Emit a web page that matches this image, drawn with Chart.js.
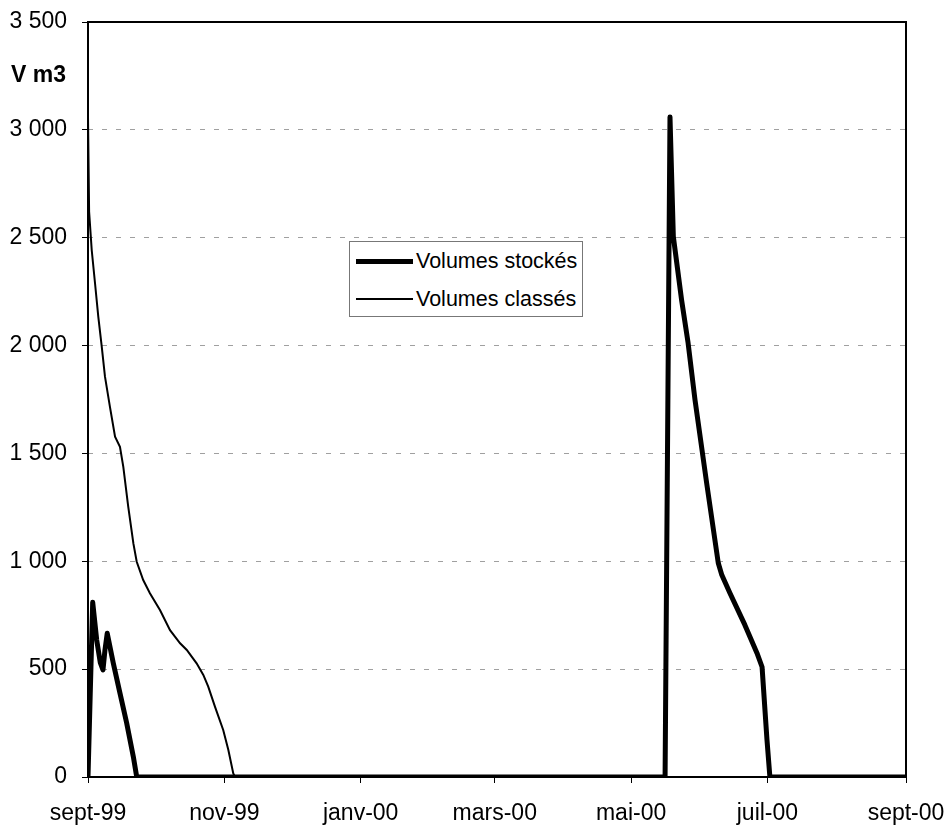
<!DOCTYPE html>
<html>
<head>
<meta charset="utf-8">
<script src="https://cdn.jsdelivr.net/npm/chart.js@4/dist/chart.umd.min.js"></script>
<style>
    body { margin: 0; background: #fff; }
    #wrap { position: relative; width: 951px; height: 827px; }
    #yTitle { position: absolute; left: 11px; top: 61px; font: bold 23px "Liberation Sans", Arial, sans-serif; line-height: 26px; color: #000; }
    #legend { position: absolute; left: 349px; top: 241px; width: 232px; height: 74px; border: 1px solid #777; background: #fff; }
    .row { position: absolute; left: 0; height: 26px; font: 21.5px "Liberation Sans", Arial, sans-serif; line-height: 26px; color: #000; white-space: nowrap; }
    .row span.swatch { position: absolute; left: 6px; width: 57px; top: 13px; background: #000; }
    .row span.txt { position: absolute; left: 66px; top: 0; }
</style>
</head>
<body>
<div id="wrap">
    <canvas id="volumeChart"></canvas>
    <div id="yTitle">V m3</div>
    <div id="legend"></div>
</div>
<script>
// x values are days since 1 Sept 1999
var tickDays = [0, 61, 122, 182, 243, 304, 366];
var tickLabels = ['sept-99', 'nov-99', 'janv-00', 'mars-00', 'mai-00', 'juil-00', 'sept-00'];

var stockDays = [0, 2.1, 3.9, 5.5, 6.7, 7.6, 8.6, 11.3, 14.3, 17.3, 20.3, 21.8,
    258.2, 260.4, 261.9, 265.6, 268.5, 271.6, 276.8, 282.0, 283.6, 287.2, 293.9, 299.3, 301.6, 303.8, 305.1, 366];
var stockValues = [0, 810, 635, 530, 496, 590, 666, 528, 389, 250, 93, 0,
    0, 3060, 2505, 2211, 2012, 1748, 1363, 992, 936, 853, 705, 575, 510, 172, 0, 0];

var classDays = [0, 0.5, 1.66, 3.13, 4.6, 6.1, 7.6, 9.8, 12.1, 14.3, 15.8, 18.0, 20.3, 21.8, 24.7, 27.7,
    32.2, 36.7, 41.2, 44.2, 48.6, 51.6, 53.8, 56.8, 60.5, 62.8, 65.0, 65.8, 366];
var classValues = [3060, 2620, 2443, 2290, 2134, 2000, 1856, 1717, 1578, 1531, 1438, 1253, 1083, 998, 913, 852,
    774, 681, 620, 589, 527, 473, 419, 326, 218, 125, 17, 0, 0];

function toPoints(xs, ys) {
    return xs.map((x, i) => ({ x: x, y: ys[i] }));
}

function formatThousands(v) {
    if (v < 1000) return String(v);
    return Math.floor(v / 1000) + ' ' + String(v % 1000).padStart(3, '0');
}

var frameBox = {
    id: 'frameBox',
    afterDatasetsDraw(chart) {
        var a = chart.chartArea;
        var ctx = chart.ctx;
        ctx.save();
        ctx.strokeStyle = '#000';
        ctx.lineWidth = 2;
        ctx.strokeRect(a.left, a.top, a.right - a.left, a.bottom - a.top);
        ctx.restore();
    }
};

Chart.defaults.font.family = '"Liberation Sans", Arial, sans-serif';
Chart.defaults.font.size = 23;
Chart.defaults.color = '#000';

var ctx = document.getElementById('volumeChart').getContext('2d');
var volumeChart = new Chart(ctx, {
    type: 'line',
    data: {
        datasets: [{
            label: 'Volumes stockés',
            data: toPoints(stockDays, stockValues),
            borderColor: '#000',
            borderWidth: 5,
            pointRadius: 0,
            tension: 0,
            borderJoinStyle: 'round',
            fill: false
        },
        {
            label: 'Volumes classés',
            data: toPoints(classDays, classValues),
            borderColor: '#000',
            borderWidth: 2,
            pointRadius: 0,
            tension: 0,
            fill: false
        }]
    },
    options: {
        responsive: true,
        maintainAspectRatio: false,
        animation: false,
        layout: { padding: { left: 0, right: 45, top: 22, bottom: 0 } },
        plugins: {
            legend: { display: false },
            title: { display: false },
            tooltip: { enabled: false }
        },
        scales: {
            x: {
                type: 'linear',
                min: 0,
                max: 366,
                afterBuildTicks: function (scale) {
                    scale.ticks = tickDays.map(d => ({ value: d }));
                },
                afterFit: function (scale) {
                    scale.height = 50;
                    scale.paddingLeft = 0;
                    scale.paddingRight = 0;
                },
                ticks: {
                    autoSkip: false,
                    maxRotation: 0,
                    padding: 17,
                    callback: function (value) {
                        var i = tickDays.indexOf(value);
                        return i >= 0 ? tickLabels[i] : '';
                    }
                },
                grid: {
                    drawOnChartArea: false,
                    drawTicks: true,
                    tickLength: 6,
                    tickColor: '#000',
                    tickWidth: 1
                },
                border: { display: false }
            },
            y: {
                min: 0,
                max: 3500,
                afterFit: function (scale) {
                    scale.width = 88;
                    scale.paddingTop = 0;
                    scale.paddingBottom = 0;
                },
                ticks: {
                    stepSize: 500,
                    padding: 15,
                    callback: function (value) {
                        return formatThousands(value);
                    }
                },
                grid: {
                    color: '#a0a0a0',
                    lineWidth: 1,
                    tickLength: 6,
                    tickColor: '#000',
                    tickBorderDash: [],
                    tickWidth: 1
                },
                border: { display: false, dash: [5, 9] }
            }
        }
    },
    plugins: [frameBox]
});

// legend box drawn as html, built from the datasets
var legendEl = document.getElementById('legend');
var rowTops = [6, 44];
volumeChart.data.datasets.forEach(function (ds, i) {
    var row = document.createElement('div');
    row.className = 'row';
    row.style.top = rowTops[i] + 'px';
    var sw = document.createElement('span');
    sw.className = 'swatch';
    sw.style.height = ds.borderWidth + 'px';
    sw.style.marginTop = (-ds.borderWidth / 2) + 'px';
    var txt = document.createElement('span');
    txt.className = 'txt';
    txt.textContent = ds.label;
    row.appendChild(sw);
    row.appendChild(txt);
    legendEl.appendChild(row);
});
</script>
</body>
</html>
